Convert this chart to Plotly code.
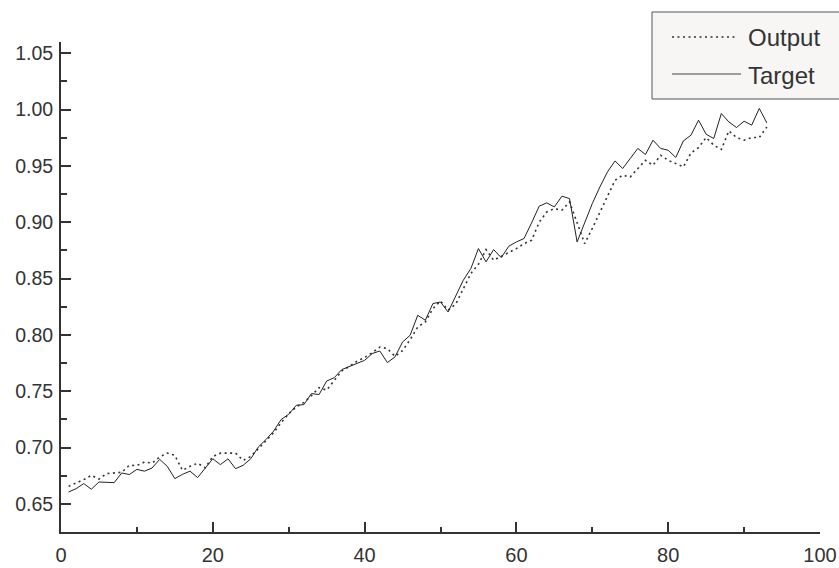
import plotly.graph_objects as go

# Time steps and series values
steps = list(range(1, 94))

target = [
    0.6605, 0.6635, 0.6680, 0.6630, 0.6694, 0.6690, 0.6688, 0.6774, 0.6760, 0.6806,
    0.6790, 0.6818, 0.6895, 0.6833, 0.6724, 0.6762, 0.6790, 0.6733, 0.6812, 0.6900,
    0.6848, 0.6900, 0.6812, 0.6842, 0.6900, 0.7005, 0.7070, 0.7145, 0.7248, 0.7295,
    0.7375, 0.7381, 0.7479, 0.7470, 0.7590, 0.7620, 0.7692, 0.7721, 0.7745, 0.7774,
    0.7834, 0.7857, 0.7754, 0.7804, 0.7937, 0.7996, 0.8174, 0.8130, 0.8278, 0.8292,
    0.8203, 0.8352, 0.8485, 0.8589, 0.8766, 0.8648, 0.8757, 0.8686, 0.8787, 0.8825,
    0.8855, 0.8994, 0.9142, 0.9172, 0.9136, 0.9231, 0.9210, 0.8825, 0.8997, 0.9166,
    0.9313, 0.9447, 0.9544, 0.9477, 0.9566, 0.9655, 0.9601, 0.9728, 0.9655, 0.9639,
    0.9575, 0.9722, 0.9773, 0.9906, 0.9781, 0.9743, 0.9965, 0.9890, 0.9841, 0.9897,
    0.9862, 1.0010, 0.9882,
]

output = [
    0.6655, 0.6685, 0.6715, 0.6753, 0.6720, 0.6768, 0.6774, 0.6780, 0.6842, 0.6840,
    0.6871, 0.6862, 0.6916, 0.6951, 0.6930, 0.6797, 0.6833, 0.6860, 0.6820, 0.6920,
    0.6950, 0.6950, 0.6950, 0.6886, 0.6920, 0.6990, 0.7060, 0.7130, 0.7220, 0.7300,
    0.7360, 0.7400, 0.7460, 0.7532, 0.7510, 0.7600, 0.7680, 0.7720, 0.7766, 0.7800,
    0.7840, 0.7892, 0.7878, 0.7810, 0.7860, 0.7958, 0.8070, 0.8115, 0.8233, 0.8300,
    0.8220, 0.8272, 0.8410, 0.8545, 0.8627, 0.8757, 0.8663, 0.8698, 0.8727, 0.8766,
    0.8810, 0.8840, 0.9000, 0.9091, 0.9121, 0.9107, 0.9180, 0.8988, 0.8810, 0.8945,
    0.9091, 0.9239, 0.9373, 0.9417, 0.9402, 0.9477, 0.9550, 0.9506, 0.9595, 0.9550,
    0.9521, 0.9491, 0.9615, 0.9663, 0.9752, 0.9684, 0.9646, 0.9811, 0.9752, 0.9728,
    0.9752, 0.9752, 0.9846,
]

series_names = ["Output", "Target"]
x_ticks = [0, 20, 40, 60, 80, 100]
y_ticks = [0.65, 0.70, 0.75, 0.80, 0.85, 0.90, 0.95, 1.00, 1.05]

W, H = 839, 568
L, R, T, B = 61, 19, 42, 36
ink = "#333333"
font = "Liberation Sans, Arial, sans-serif"

output_line = dict(color=ink, width=1.6, dash="2px,3.5px")
target_line = dict(color="#222222", width=1)

fig = go.Figure()
fig.add_trace(go.Scatter(x=steps, y=output, name=series_names[0], mode="lines",
                         line=output_line))
fig.add_trace(go.Scatter(x=steps, y=target, name=series_names[1], mode="lines",
                         line=target_line))

# pixel -> paper helpers for the legend box in the top-right corner
pw, ph = W - L - R, H - T - B
def px(v):
    return (v - L) / pw
def py(v):
    return (H - B - v) / ph

shapes = [
    dict(type="rect", xref="paper", yref="paper",
         x0=px(652), x1=px(850), y0=py(99), y1=py(12),
         fillcolor="#f7f6f4", line=dict(color="#555555", width=1), layer="above"),
    dict(type="line", xref="paper", yref="paper",
         x0=px(672), x1=px(737), y0=py(37), y1=py(37),
         line=dict(color=ink, width=1.6, dash="2px,3.5px"), layer="above"),
    dict(type="line", xref="paper", yref="paper",
         x0=px(672), x1=px(741), y0=py(74), y1=py(74),
         line=dict(color="#444444", width=1.2), layer="above"),
]
annotations = [
    dict(text=series_names[0], xref="paper", yref="paper", x=px(746), y=py(38),
         xanchor="left", yanchor="middle", showarrow=False,
         font=dict(size=24, color=ink, family=font)),
    dict(text=series_names[1], xref="paper", yref="paper", x=px(746), y=py(75),
         xanchor="left", yanchor="middle", showarrow=False,
         font=dict(size=24, color=ink, family=font)),
]

fig.update_layout(
    width=W, height=H,
    margin=dict(l=L, r=R, t=T, b=B, autoexpand=False),
    paper_bgcolor="white", plot_bgcolor="white",
    font=dict(family=font, color=ink, size=18),
    showlegend=False,
    shapes=shapes,
    annotations=annotations,
    xaxis=dict(
        range=[0, 100], tickvals=x_ticks, showgrid=False, zeroline=False,
        showline=True, linecolor=ink, linewidth=2,
        ticks="inside", ticklen=10, tickwidth=2, tickcolor=ink,
        minor=dict(dtick=10, ticks="inside", ticklen=5, tickwidth=2, tickcolor=ink),
        tickfont=dict(size=20, color=ink,
                      family="Liberation Sans Narrow, Liberation Sans, Arial, sans-serif"),
        ticklabelstandoff=4,
    ),
    yaxis=dict(
        range=[0.625, 1.06], tickvals=y_ticks, ticktext=[f"{v:.2f}" for v in y_ticks],
        showgrid=False, zeroline=False,
        showline=True, linecolor=ink, linewidth=2,
        ticks="inside", ticklen=10, tickwidth=2, tickcolor=ink,
        minor=dict(tickvals=[0.675, 0.725, 0.775, 0.825, 0.875, 0.925, 0.975, 1.025],
                   ticks="inside", ticklen=6, tickwidth=2, tickcolor=ink),
        tickfont=dict(size=19.5, color=ink),
        ticklabelstandoff=2,
    ),
)

fig.write_html("out.html")
